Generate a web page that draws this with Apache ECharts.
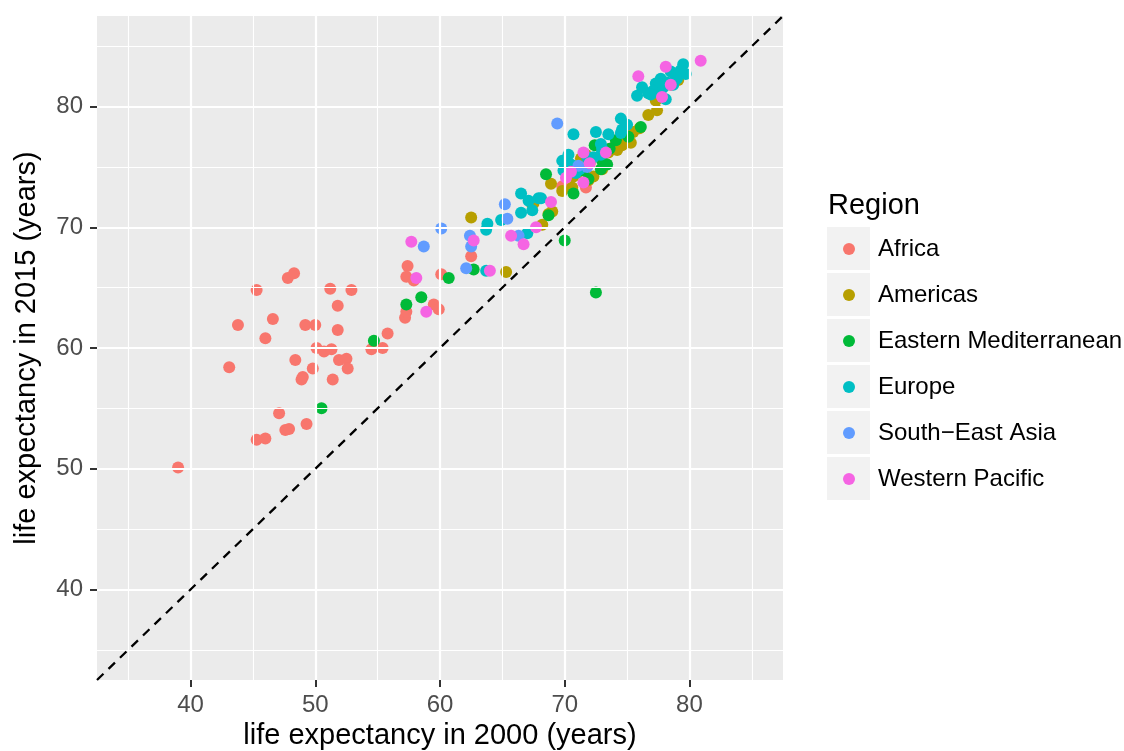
<!DOCTYPE html>
<html>
<head>
<meta charset="utf-8">
<script src="https://cdn.jsdelivr.net/npm/echarts@6/dist/echarts.min.js"></script>
<style>html,body{margin:0;padding:0;background:#fff}#main{width:1124px;height:751px}</style>
</head>
<body>
<div id="main"></div>
<script>
// life expectancy: [2000, 2015] per country, grouped by WHO region
var regions = ['Africa', 'Americas', 'Eastern Mediterranean', 'Europe', 'South\u2212East Asia', 'Western Pacific'];
var colors = ['#F8766D', '#B79F00', '#00BA38', '#00BFC4', '#619CFF', '#F564E3'];

var africa = [
  [39.0, 50.1], [43.1, 58.4], [43.8, 61.9], [45.3, 64.8], [45.3, 52.4], [46.0, 52.5], [46.0, 60.8],
  [46.6, 62.4], [47.1, 54.6], [47.6, 53.2], [47.9, 53.3], [47.8, 65.8], [48.3, 66.2], [48.4, 59.0],
  [48.9, 57.4], [49.0, 57.6], [49.2, 61.9], [49.3, 53.7], [49.8, 58.3], [50.0, 61.9], [50.1, 60.0],
  [50.7, 59.7], [51.2, 64.9], [51.3, 59.9], [51.4, 57.4], [51.8, 61.5], [51.8, 63.5], [51.9, 59.0],
  [52.5, 59.1], [52.6, 58.3], [52.9, 64.8], [54.5, 59.9], [55.4, 60.0], [55.8, 61.2], [57.2, 62.5],
  [57.3, 63.0], [57.4, 66.8], [57.3, 65.9], [57.9, 65.6], [59.5, 63.6], [59.9, 63.2], [60.1, 66.1],
  [62.5, 67.6], [69.8, 73.4], [71.7, 73.3]
];
var americas = [
  [62.5, 70.8], [65.3, 66.3], [68.9, 73.6], [67.5, 72.0], [69.0, 71.3], [68.2, 70.2], [67.4, 71.9],
  [76.7, 79.3], [77.4, 79.7], [75.5, 77.9], [74.9, 77.1], [74.6, 76.8], [73.9, 76.6], [71.3, 75.7],
  [70.3, 75.0], [72.3, 74.2], [70.6, 73.3], [70.7, 74.2], [77.3, 80.5], [79.1, 82.2], [73.5, 76.2],
  [72.0, 75.3], [71.0, 74.5], [71.7, 76.0], [76.0, 78.2], [73.0, 74.8], [69.8, 73.0], [70.1, 75.2],
  [71.9, 73.9], [74.2, 76.4], [78.5, 81.8], [68.7, 71.1], [75.3, 77.0]
];
var easternMed = [
  [50.5, 55.0], [54.7, 60.6], [57.3, 63.6], [58.5, 64.2], [60.7, 65.8], [62.7, 66.5], [70.0, 68.9],
  [72.5, 64.6], [68.7, 71.0], [70.7, 72.8], [68.5, 74.4], [76.1, 78.3], [74.1, 77.2], [72.4, 76.8],
  [73.0, 75.5], [72.9, 74.8], [71.5, 74.7], [73.6, 76.5], [75.1, 77.5], [73.4, 75.2], [71.9, 74.0]
];
var europe = [
  [63.7, 66.4], [63.8, 70.3], [63.7, 69.8], [64.9, 70.6], [66.5, 72.8], [67.1, 72.2], [67.9, 72.4],
  [67.4, 71.4], [66.5, 71.2], [67.0, 69.5], [70.7, 77.7], [72.5, 77.9], [74.5, 79.0], [74.6, 78.1],
  [73.5, 77.7], [72.9, 76.9], [70.3, 76.0], [69.9, 74.7], [68.1, 72.4], [72.3, 75.8], [79.5, 83.5],
  [79.1, 82.7], [78.5, 82.9], [77.7, 82.3], [77.3, 81.9], [76.2, 81.6], [75.8, 80.9], [76.7, 81.1],
  [77.7, 81.3], [78.1, 80.6], [78.7, 81.8], [79.7, 82.7], [77.1, 81.3], [74.5, 77.8], [71.8, 75.8],
  [69.8, 75.5], [70.5, 75.2], [71.2, 74.8], [73.0, 76.5], [78.2, 82.0], [79.0, 82.3], [77.9, 81.6],
  [76.9, 81.0], [79.3, 83.0], [78.9, 82.5], [75.0, 78.5], [72.9, 76.0], [70.9, 74.5]
];
var seAsia = [
  [69.4, 78.6], [60.1, 69.9], [58.7, 68.4], [65.2, 71.9], [65.4, 70.7], [62.4, 69.3], [62.5, 68.4],
  [62.1, 66.6], [66.3, 69.3], [71.1, 75.1], [71.8, 75.0]
];
var westernPacific = [
  [57.7, 68.8], [62.7, 68.9], [64.0, 66.4], [65.7, 69.3], [66.7, 68.6], [67.7, 70.0], [68.9, 72.1],
  [58.1, 65.8], [58.9, 63.0], [70.1, 74.1], [71.5, 73.7], [73.3, 76.2], [71.5, 76.2], [75.9, 82.5],
  [78.1, 83.3], [80.9, 83.8], [78.5, 81.8], [77.8, 80.8], [70.5, 74.6], [72.0, 75.3]
];
var regionData = [africa, americas, easternMed, europe, seAsia, westernPacific];

var axisRange = [32.5, 87.5];
var majorTicks = [40, 50, 60, 70, 80];
var minorTicks = [35, 45, 55, 65, 75, 85];
var identityLine = [[axisRange[0], axisRange[0]], [axisRange[1], axisRange[1]]];

var font = 'Liberation Sans';

function gridLines(vals, width) {
  var out = [];
  vals.forEach(function (v) {
    out.push({ xAxis: v, lineStyle: { width: width } });
    out.push({ yAxis: v, lineStyle: { width: width } });
  });
  return out;
}

function makeAxis(name, gap, margin) {
  return {
    type: 'value',
    min: axisRange[0],
    max: axisRange[1],
    name: name,
    nameLocation: 'middle',
    nameGap: gap,
    nameTextStyle: { fontFamily: font, fontSize: 29, color: '#000' },
    axisLine: { show: false },
    axisTick: { show: true, customValues: majorTicks, length: 7, lineStyle: { color: '#333', width: 2 } },
    axisLabel: { customValues: majorTicks, margin: margin, fontFamily: font, fontSize: 24, color: '#4D4D4D' },
    splitLine: { show: false }
  };
}

var series = [{
  type: 'line',
  data: [],
  z: 1,
  silent: true,
  markLine: {
    silent: true,
    animation: false,
    symbol: ['none', 'none'],
    label: { show: false },
    lineStyle: { color: '#fff', type: 'solid' },
    data: gridLines(minorTicks, 1.1).concat(gridLines(majorTicks, 2.2))
  }
}];

regions.forEach(function (r, i) {
  series.push({
    name: r,
    type: 'scatter',
    data: regionData[i],
    symbolSize: 12,
    itemStyle: { color: colors[i], opacity: 1 },
    z: 3
  });
});

series.push({
  type: 'line',
  data: identityLine,
  symbol: 'none',
  silent: true,
  clip: true,
  z: 5,
  lineStyle: { color: '#000', width: 2.3, type: [9, 7] }
});

var graphics = [{
  type: 'text',
  left: 828,
  top: 191,
  style: { text: 'Region', fontFamily: font, fontSize: 29, fill: '#000' }
}];
regions.forEach(function (r, i) {
  graphics.push({
    type: 'rect',
    shape: { x: 827, y: 227 + i * 46, width: 43, height: 43 },
    style: { fill: '#F2F2F2' },
    z: -1
  });
});

var option = {
  backgroundColor: '#fff',
  animation: false,
  grid: {
    left: 97, right: 341, top: 16, bottom: 71,
    outerBoundsMode: 'none',
    containLabel: false,
    show: true, backgroundColor: '#EBEBEB', borderWidth: 0
  },
  xAxis: makeAxis('life expectancy in 2000 (years)', 41, 13),
  yAxis: makeAxis('life expectancy in 2015 (years)', 56, 14),
  legend: {
    data: regions.map(function (r) { return { name: r, icon: 'circle' }; }),
    orient: 'vertical',
    left: 843,
    top: 226,
    padding: 0,
    itemWidth: 12,
    itemHeight: 12,
    itemGap: 0,
    selectedMode: false,
    textStyle: { fontFamily: font, fontSize: 24, color: '#000', lineHeight: 46, padding: [0, 0, 0, 18] }
  },
  graphic: graphics,
  series: series
};

var chart = echarts.init(document.getElementById('main'));
chart.setOption(option);
</script>
</body>
</html>
